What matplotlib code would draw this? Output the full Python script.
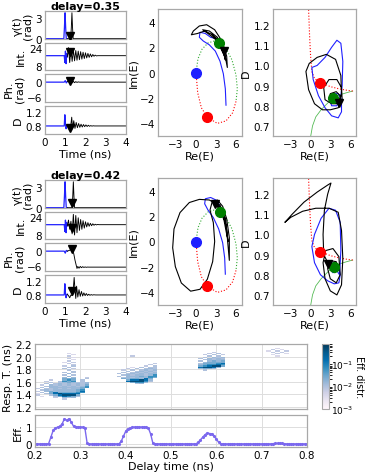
import numpy as np
import matplotlib
matplotlib.use("Agg")
import matplotlib.pyplot as plt
from matplotlib.colors import LogNorm

plt.rcParams['font.family'] = ['DejaVu Sans']
plt.rcParams['font.size'] = 7.5
plt.rcParams['mathtext.default'] = 'regular'

# ------------------------------------------------------------------ data
DELAY_LABELS = ["delay=0.35", "delay=0.42"]
TIME_TICKS = [0, 1, 2, 3, 4]

# ---- delay 0.35 : time series (blue = before, black = after)
g35_bt = [0, 0.93, 0.96, 0.99, 1.02, 1.05, 1.10]
g35_by = [0, 0, 1.6, 3.7, 1.6, 0, 0]
g35_kt = [1.10, 1.27, 1.30, 1.33, 1.36, 1.39, 4.0]
g35_ky = [0, 0, 1.6, 3.7, 1.6, 0, 0]
i35_bt = [0, 0.95, 0.98, 1.01, 1.04, 1.07, 1.10]
i35_by = [17, 17, 11, 21, 10, 19, 16]
i35_kt = [1.10, 1.16, 1.22, 1.28, 1.34, 1.40, 1.46, 1.52, 1.58, 1.64, 1.70, 1.76, 1.82, 1.88,
          1.94, 2.00, 2.06, 2.12, 2.18, 2.24, 2.30, 2.36, 2.42, 2.48, 2.54, 2.60, 4.0]
i35_ky = [16, 24, 11, 23, 12, 22, 12.5, 21.5, 13, 21, 13.5, 20.5, 14, 20,
          14.5, 19.5, 15, 19, 15.5, 18.5, 16, 18, 16.5, 17.5, 16.8, 17, 17]
p35_bt = [0, 0.95, 1.00, 1.05, 1.10]
p35_by = [0, 0, 0.6, -0.3, 0.2]
p35_kt = [1.10, 1.16, 1.22, 1.28, 1.34, 1.40, 1.46, 1.52, 1.58, 1.64, 1.70, 4.0]
p35_ky = [0.2, 0.7, -0.3, 0.4, -0.3, 0.3, -0.2, 0.2, -0.1, 0.1, 0, 0]
d35_bt = [0, 0.95, 0.98, 1.01, 1.04, 1.07, 1.10]
d35_by = [0.8, 0.8, 1.12, 0.86, 0.72, 0.79, 0.82]
d35_kt = [1.10, 1.16, 1.22, 1.28, 1.32, 1.36, 1.42, 1.48, 1.54, 1.60, 1.66, 1.72, 1.78,
          1.84, 1.90, 1.96, 2.02, 2.08, 2.14, 2.20, 2.26, 2.32, 2.38, 2.44, 2.50, 4.0]
d35_ky = [0.82, 0.78, 0.72, 0.85, 1.05, 0.72, 0.95, 0.73, 0.90, 0.75, 0.87, 0.76, 0.85,
          0.77, 0.84, 0.78, 0.83, 0.785, 0.82, 0.79, 0.81, 0.795, 0.805, 0.8, 0.8, 0.8]
m35_t = 1.22
m35_vals = [0.45, 20, 0.3, 0.75]

# ---- delay 0.42 : time series
g42_bt = [0, 0.93, 0.96, 0.99, 1.02, 1.05, 1.10]
g42_by = [0, 0, 1.6, 3.7, 1.6, 0, 0]
g42_kt = [1.10, 1.34, 1.37, 1.40, 1.43, 1.46, 4.0]
g42_ky = [0, 0, 1.6, 3.7, 1.6, 0, 0]
i42_bt = [0, 0.95, 0.98, 1.01, 1.04, 1.07, 1.10]
i42_by = [17, 17, 11, 21, 10, 19, 16]
i42_kt = [1.10, 1.16, 1.22, 1.28, 1.34, 1.40, 1.46, 1.52, 1.58, 1.64, 1.70, 1.76, 1.82, 1.88,
          1.94, 2.00, 2.06, 2.12, 2.18, 2.24, 2.30, 2.36, 2.42, 2.48, 2.54, 2.60, 2.66, 4.0]
i42_ky = [16, 21, 13, 20, 9, 26, 8, 25, 10, 23, 12, 21.5, 13, 20.5,
          14, 19.5, 15, 18.8, 15.6, 18.2, 16.1, 17.8, 16.5, 17.4, 16.8, 17.2, 17, 17]
p42_bt = [0, 0.95, 1.00, 1.05, 1.10]
p42_by = [0, 0, -0.8, 0.3, 0]
p42_kt = [1.10, 1.20, 1.28, 1.36, 1.42, 1.48, 1.54, 1.58, 1.62, 1.68, 1.74, 1.80, 1.86,
          1.92, 1.98, 2.04, 2.10, 2.16, 4.0]
p42_ky = [0, 0.3, 0.6, 0.2, -1.0, -3.5, -5.5, -6.8, -6.0, -6.7, -6.0, -6.5, -6.1,
          -6.4, -6.2, -6.35, -6.25, -6.28, -6.28]
d42_bt = [0, 0.95, 0.98, 1.01, 1.04, 1.07, 1.10]
d42_by = [0.8, 0.8, 1.12, 0.86, 0.72, 0.79, 0.82]
d42_kt = [1.10, 1.16, 1.22, 1.28, 1.34, 1.40, 1.44, 1.48, 1.52, 1.56, 1.62, 1.68, 1.74,
          1.80, 1.86, 1.92, 1.98, 2.04, 2.10, 2.16, 2.22, 2.28, 2.34, 2.40, 2.50, 4.0]
d42_ky = [0.82, 0.78, 0.72, 0.80, 0.78, 1.0, 1.30, 0.95, 0.70, 1.05, 0.74, 0.95, 0.76,
          0.90, 0.77, 0.86, 0.78, 0.84, 0.785, 0.82, 0.79, 0.81, 0.795, 0.805, 0.8, 0.8]
m42_t = 1.32
m42_vals = [0.6, 14.5, 1.0, 0.9]

# ---- phase portraits Im(E) vs Re(E)
orbitE_green = [(0.0, 0.0), (0.3, 1.1), (0.9, 1.85), (1.8, 2.35), (2.7, 2.5), (3.5, 2.35),
                (4.5, 1.9), (5.4, 1.0), (6.0, -0.2), (6.2, -1.3), (6.0, -2.3)]
orbitE_red = [(6.0, -2.3), (5.5, -3.2), (4.5, -3.85), (3.2, -4.05), (1.7, -3.55),
              (0.8, -2.8), (0.25, -1.6), (0.0, 0.0)]
ptE_blue = (0.0, 0.0)
ptE_red = (1.7, -3.55)
ptE_green = (3.5, 2.35)
e35_blue = [(4.5, -2.6), (4.4, -1.3), (4.1, -0.1), (3.6, 0.9), (2.9, 1.7), (2.0, 2.2), (1.1, 2.5),
            (0.5, 2.8), (0.6, 3.2), (1.4, 3.1), (2.2, 2.8), (2.9, 2.7), (3.4, 2.5), (3.6, 2.3)]
e35_black = [(3.6, 2.3), (4.3, 1.5), (4.7, 0.4), (4.6, 1.3), (3.9, 2.5), (2.8, 3.4), (1.6, 3.8),
             (0.5, 3.7), (-0.4, 3.3), (-0.7, 3.0), (0.2, 3.1), (1.3, 3.3), (2.5, 3.0), (3.5, 2.3),
             (4.2, 1.4), (4.4, 1.0), (4.1, 1.9), (3.2, 2.8), (2.0, 3.3), (1.0, 3.4), (1.8, 3.1),
             (3.0, 2.6), (3.9, 1.8), (4.3, 1.3), (3.9, 2.1), (3.1, 2.7), (2.4, 3.0), (3.2, 2.6),
             (4.0, 1.9), (4.2, 1.7)]
e35_mark = (4.2, 1.7)
e42_blue = [(4.4, -2.6), (4.3, -1.3), (4.0, -0.1), (3.4, 1.0), (2.6, 1.9), (1.8, 2.5), (1.3, 3.0),
            (1.4, 3.4), (2.2, 3.5), (3.0, 3.3), (3.5, 2.9), (3.6, 2.4)]
e42_black = [(3.6, 2.35), (3.0, 3.0), (2.0, 3.3), (0.5, 3.35), (-1.0, 3.1), (-2.4, 2.3), (-3.3, 1.0),
             (-3.5, -0.5), (-3.1, -2.0), (-2.2, -3.3), (-0.8, -3.95), (0.6, -3.8), (1.7, -3.0),
             (2.5, -1.6), (2.8, 0.0), (2.6, 1.5), (2.1, 2.5), (2.4, 3.1), (3.2, 3.3), (4.0, 2.8),
             (4.6, 1.8), (5.0, 0.3), (5.0, -1.5), (4.7, 0.3), (4.2, 1.7), (3.5, 2.7), (2.9, 3.1),
             (3.6, 2.9), (4.4, 1.8), (4.8, 0.0), (4.5, 1.3), (3.8, 2.5), (3.0, 3.05), (3.9, 2.6),
             (4.3, 1.8), (3.9, 2.4), (3.1, 3.0), (2.8, 3.0)]
e42_mark = (2.8, 3.0)
e42_green = (3.6, 2.35)

# ---- phase portraits D vs Re(E)
orbitD_green = [(0.0, 0.645), (0.3, 0.70), (0.8, 0.745), (1.6, 0.78), (2.5, 0.81), (3.4, 0.84),
                (4.5, 0.855), (5.5, 0.865), (6.4, 0.873)]
orbitD_red = [(6.4, 0.873), (5.3, 0.878), (4.2, 0.885), (3.0, 0.895), (1.5, 0.915), (0.6, 0.935),
              (0.2, 0.97), (0.0, 1.05), (-0.15, 1.15), (-0.3, 1.28)]
ptD_red = (1.5, 0.915)
dd35_green = (3.4, 0.84)
dd42_green = (3.6, 0.84)
dd35_blue = [(3.4, 0.84), (4.4, 0.80), (4.8, 0.90), (4.9, 1.02), (4.6, 1.11), (4.0, 1.125),
             (3.2, 1.09), (2.2, 1.04), (1.0, 1.0), (0.2, 0.99), (0.4, 0.93), (1.2, 0.85), (2.2, 0.79),
             (3.2, 0.75), (4.2, 0.74), (4.7, 0.77), (4.7, 0.83), (4.2, 0.86), (3.3, 0.86), (2.9, 0.83),
             (3.2, 0.80), (4.0, 0.80), (4.3, 0.83), (3.8, 0.85), (3.4, 0.84)]
dd35_black = [(4.35, 0.816), (4.7, 0.86), (4.6, 0.95), (3.8, 1.03), (2.4, 1.055), (1.0, 1.04),
              (-0.2, 1.01), (-0.7, 0.97), (-0.3, 0.88), (0.6, 0.81), (1.8, 0.78), (3.0, 0.78),
              (4.2, 0.79), (4.8, 0.83), (4.7, 0.89), (4.0, 0.93), (2.8, 0.93), (2.0, 0.89),
              (2.2, 0.83), (3.2, 0.81), (4.4, 0.81), (4.5, 0.85), (3.9, 0.87), (3.0, 0.86),
              (2.8, 0.83), (3.5, 0.815), (4.35, 0.816)]
dd35_mark = (4.35, 0.816)
dd42_blue = [(3.6, 0.84), (4.4, 0.80), (4.6, 0.92), (4.5, 1.06), (3.8, 1.12), (2.8, 1.13), (1.6, 1.08),
             (0.6, 1.0), (0.2, 0.94), (0.6, 0.86), (1.5, 0.80), (2.6, 0.77), (3.6, 0.755), (4.3, 0.76),
             (4.5, 0.80), (4.2, 0.85), (3.4, 0.86), (3.0, 0.83), (3.4, 0.81), (4.0, 0.82), (3.9, 0.85),
             (3.6, 0.84)]
dd42_black = [(2.7, 0.855), (2.0, 0.90), (1.9, 1.0), (2.1, 1.12), (2.6, 1.20), (3.1, 1.255),
              (2.6, 1.245), (1.0, 1.21), (-1.0, 1.16), (-2.8, 1.10), (-3.9, 1.06), (-3.0, 1.085),
              (-1.2, 1.115), (0.8, 1.13), (2.8, 1.13), (4.2, 1.11), (4.7, 1.02), (4.9, 0.88),
              (4.7, 0.75), (4.0, 0.70), (3.0, 0.72), (2.2, 0.78), (1.9, 0.86), (2.3, 0.92),
              (3.4, 0.93), (4.3, 0.89), (4.5, 0.80), (3.9, 0.76), (3.0, 0.78), (2.6, 0.83),
              (3.0, 0.87), (3.9, 0.865), (4.2, 0.83), (3.7, 0.81), (3.2, 0.825), (3.5, 0.845),
              (3.7, 0.84)]
dd42_mark = (2.7, 0.855)

# ---- response-time distribution (coded levels, columns 0.01 ns, rows 0.02 ns)
LEVEL_VALUES = {'1': 0.002, '2': 0.004, '3': 0.007, '4': 0.01, '5': 0.014,
                '6': 0.025, '7': 0.06, '8': 0.14, '9': 0.4}
heat_c1_x0, heat_c1_ytop = 0.20, 2.04
heat_c1_rows = [
    ".......2....", "........2...", ".......3....", "........2...", ".......3....",
    "........2...", ".......3....", "......2.3...", ".......3....", "........3...",
    "......3.4...", ".......4....", "......4.3...", ".......4....", "........4...",
    "......4.4...", ".......5....", "......4.4...", ".......5....", "......5.5..3",
    "......666..4", "...3..676.4.", "..3..4767.4.", "...4.4565445", "..4.45454545",
    ".3.545454546", "..4554545457", ".4.555555567", "3.445454556.", ".4545555567.",
    "3.565555568.", ".4.68666677.", "2.46898888..", "3..4689996..", ".2..468764..",
    "....3.545...", "......3.....",
]
heat_c2_x0, heat_c2_ytop = 0.38, 2.00
heat_c2_rows = [
    "...3.....", ".........", ".........", ".........", ".........", ".........",
    "........3", ".......3.", "......3.4", "...2.4.44", "..3.4.454", ".3.4.4545",
    "..4.45454", ".4.454545", "4.4545455", ".45455457", "4.5556577", ".45455576",
    ".6566586.", "..688985.", "..899974.", "...6775..", "....45...",
]
heat_c3_x0, heat_c3_ytop = 0.56, 2.06
heat_c3_rows = [
    "...3..", "..3.4.", ".3.4.3", "..4.4.", ".4.545", "4.5454", ".45455", "4.5656",
    ".56666", "466678", "567787", "678996", "89985.", "5665..", ".4....",
]
heat_c4_x0, heat_c4_ytop = 0.71, 2.12
heat_c4_rows = ["..2..", ".3.2.", "2.3.3", ".3.3.", "..3.2", ".2...", "..2.."]

# ---- efficiency vs delay (0.005 ns steps from 0.2 to 0.8)
eff_values = [0, 0, 0, 0, 0, 0,
              0.02, 0.4, 0.8, 0.95, 1.0, 1.05, 1.2, 1.5, 1.4, 1.5, 1.3, 1.05, 1.0, 1.0, 1.0, 1.0,
              0.95, 0.05,
              0, 0, 0, 0, 0, 0, 0, 0, 0, 0, 0, 0, 0, 0,
              0.15, 0.45, 0.75, 0.9, 0.95, 1.0, 1.0, 1.0, 1.0, 1.0, 1.0, 1.0, 0.95, 0.6, 0.05,
              0, 0, 0, 0, 0, 0, 0, 0, 0, 0, 0, 0, 0, 0, 0, 0, 0, 0, 0,
              0.1, 0.25, 0.4, 0.55, 0.65, 0.62, 0.6, 0.45, 0.3, 0.1, 0,
              0, 0, 0, 0, 0, 0, 0, 0, 0, 0, 0, 0, 0, 0, 0, 0, 0, 0, 0, 0, 0, 0,
              0.02, 0.03, 0.04, 0.04, 0.03, 0.02,
              0, 0, 0, 0, 0, 0, 0, 0, 0, 0]

# ------------------------------------------------------------------ layout
W, H = 365, 477
fig = plt.figure(figsize=(W / 100, H / 100), dpi=100)


def px(l, t, r, b):
    return [l / W, 1 - b / H, (r - l) / W, (b - t) / H]


SPINE = '#a8a8a8'


def style(ax, grid=False):
    for s in ax.spines.values():
        s.set_color(SPINE)
        s.set_linewidth(0.9)
    ax.tick_params(length=0, pad=2, labelsize=7.5)
    if grid:
        ax.grid(True, color='#dddddd', lw=0.7)
        ax.set_axisbelow(True)


def xy(pts):
    a = np.array(pts, dtype=float)
    return a[:, 0], a[:, 1]


series = [
    dict(g=(g35_bt, g35_by, g35_kt, g35_ky), i=(i35_bt, i35_by, i35_kt, i35_ky),
         p=(p35_bt, p35_by, p35_kt, p35_ky), d=(d35_bt, d35_by, d35_kt, d35_ky),
         mt=m35_t, mv=m35_vals, eb=e35_blue, ek=e35_black, em=e35_mark, egreen=ptE_green,
         db=dd35_blue, dk=dd35_black, dm=dd35_mark, dgreen=dd35_green),
    dict(g=(g42_bt, g42_by, g42_kt, g42_ky), i=(i42_bt, i42_by, i42_kt, i42_ky),
         p=(p42_bt, p42_by, p42_kt, p42_ky), d=(d42_bt, d42_by, d42_kt, d42_ky),
         mt=m42_t, mv=m42_vals, eb=e42_blue, ek=e42_black, em=e42_mark, egreen=e42_green,
         db=dd42_blue, dk=dd42_black, dm=dd42_mark, dgreen=dd42_green),
]

panel_keys = ['g', 'i', 'p', 'd']
panel_ylabels = ['γ(t)\n(rad)', 'Int.', 'Ph.\n(rad)', 'D']
panel_ylims = [(-0.05, 3.95), (4.5, 28.5), (-7.8, 3.2), (0.57, 1.37)]
panel_yticks = [[0, 3], [8, 24], [-6, 0], [0.8, 1.2]]
panel_rows = [(12.0, 40.0), (43.5, 71.0), (75.0, 103.0), (107.0, 135.0)]

for bi, s in enumerate(series):
    off = 169 * bi
    for k, key in enumerate(panel_keys):
        t0, t1 = panel_rows[k]
        ax = fig.add_axes(px(45, t0 + off, 126, t1 + off))
        style(ax)
        bt, by, kt, ky = s[key]
        ax.plot(bt, by, color='#2020ff', lw=0.9)
        ax.plot(kt, ky, color='black', lw=0.65)
        ax.plot([s['mt']], [s['mv'][k]], marker='v', color='black', ms=6, ls='none', zorder=5)
        ax.set_xlim(0, 4)
        ax.set_ylim(*panel_ylims[k])
        ax.set_yticks(panel_yticks[k])
        ax.set_xticks(TIME_TICKS)
        ax.set_ylabel(panel_ylabels[k], fontsize=8, labelpad=2, linespacing=1.0)
        if k == 0:
            ax.set_title(DELAY_LABELS[bi], fontsize=8, fontweight='bold', pad=1.0)
        if k < 3:
            ax.set_xticklabels([])
        else:
            ax.set_xlabel('Time (ns)', fontsize=8, labelpad=1)

    # Im(E) vs Re(E)
    ax = fig.add_axes(px(158, 10 + off, 242, 137 + off))
    style(ax)
    ax.plot(*xy(orbitE_green), color='#33aa33', ls=':', lw=0.8)
    ax.plot(*xy(orbitE_red), color='red', ls=':', lw=0.8)
    ax.plot(*xy(s['eb']), color='#2020ff', lw=0.8)
    ax.plot(*xy(s['ek']), color='black', lw=0.8)
    ax.plot([ptE_blue[0]], [ptE_blue[1]], 'o', color='#1f1fff', ms=7, zorder=6)
    ax.plot([ptE_red[0]], [ptE_red[1]], 'o', color='red', ms=7, zorder=6)
    ax.plot([s['egreen'][0]], [s['egreen'][1]], 'o', color='green', ms=7, zorder=6)
    ax.plot([s['em'][0]], [s['em'][1]], 'v', color='black', ms=6, zorder=7)
    ax.set_xlim(-5.7, 6.9)
    ax.set_ylim(-5.05, 5.05)
    ax.set_xticks([-3, 0, 3, 6])
    ax.set_yticks([-4, -2, 0, 2, 4])
    ax.set_xlabel('Re(E)', fontsize=8, labelpad=1)
    ax.set_ylabel('Im(E)', fontsize=8, labelpad=1)

    # D vs Re(E)
    ax = fig.add_axes(px(273, 10 + off, 356, 137 + off))
    style(ax)
    ax.plot(*xy(orbitD_green), color='#55bb55', ls='-', lw=0.6)
    ax.plot(*xy(orbitD_red), color='red', ls=':', lw=0.8)
    ax.plot(*xy(s['db']), color='#2020ff', lw=0.8)
    ax.plot(*xy(s['dk']), color='black', lw=0.8)
    ax.plot([ptD_red[0]], [ptD_red[1]], 'o', color='red', ms=7, zorder=6)
    ax.plot([s['dgreen'][0]], [s['dgreen'][1]], 'o', color='green', ms=7, zorder=6)
    ax.plot([s['dm'][0]], [s['dm'][1]], 'v', color='black', ms=6, zorder=7)
    ax.set_xlim(-5.7, 6.9)
    ax.set_ylim(0.65, 1.28)
    ax.set_xticks([-3, 0, 3, 6])
    ax.set_yticks([0.7, 0.8, 0.9, 1.0, 1.1, 1.2])
    ax.set_xlabel('Re(E)', fontsize=8, labelpad=1)
    ax.set_ylabel('D', fontsize=8, labelpad=2)

# ---------------- heat map
x_edges = np.round(np.arange(0.20, 0.80 + 1e-9, 0.01), 3)
y_edges = np.round(np.arange(1.32, 2.16 + 1e-9, 0.02), 3)
Z = np.full((len(y_edges) - 1, len(x_edges) - 1), np.nan)
for x0, ytop, rows in [(heat_c1_x0, heat_c1_ytop, heat_c1_rows),
                       (heat_c2_x0, heat_c2_ytop, heat_c2_rows),
                       (heat_c3_x0, heat_c3_ytop, heat_c3_rows),
                       (heat_c4_x0, heat_c4_ytop, heat_c4_rows)]:
    c0 = int(round((x0 - 0.20) / 0.01))
    r0 = int(round((ytop - 1.32) / 0.02))
    for ri, row in enumerate(rows):
        for ci, ch in enumerate(row):
            if ch in LEVEL_VALUES:
                Z[r0 - ri, c0 + ci] = LEVEL_VALUES[ch]

axh = fig.add_axes(px(35, 345, 307, 410))
style(axh, grid=True)
mesh = axh.pcolormesh(x_edges, y_edges, np.ma.masked_invalid(Z), cmap='PuBu',
                      norm=LogNorm(vmin=1e-3, vmax=0.7), shading='flat', zorder=1)
axh.set_xlim(0.2, 0.8)
axh.set_ylim(1.17, 2.2)
axh.set_yticks([1.2, 1.4, 1.6, 1.8, 2.0, 2.2])
axh.set_xticks([0.2, 0.3, 0.4, 0.5, 0.6, 0.7, 0.8])
axh.set_xticklabels([])
axh.set_ylabel('Resp. T. (ns)', fontsize=8, labelpad=2)

cax = fig.add_axes(px(322, 345, 329, 410))
cb = fig.colorbar(mesh, cax=cax)
cb.set_ticks([1e-3, 1e-2, 1e-1])
cb.outline.set_edgecolor(SPINE)
cb.ax.tick_params(length=0, pad=1.5, labelsize=6.5)
fig.text(359.5 / W, 1 - 377.5 / H, 'Eff. distr.', fontsize=7, rotation=270,
         ha='center', va='center')

# ---------------- efficiency
delays = np.linspace(0.2, 0.8, len(eff_values))
axe = fig.add_axes(px(35, 416, 307, 448))
style(axe, grid=True)
axe.plot(delays, eff_values, color='#7b68ee', lw=1.0, marker='.', ms=2.5)
axe.set_xlim(0.2, 0.8)
axe.set_ylim(-0.18, 1.72)
axe.set_yticks([0, 1])
axe.set_xticks([0.2, 0.3, 0.4, 0.5, 0.6, 0.7, 0.8])
axe.set_xlabel('Delay time (ns)', fontsize=8, labelpad=1)
axe.set_ylabel('Eff.', fontsize=8, labelpad=2)

fig.savefig('out.png', dpi=100)
